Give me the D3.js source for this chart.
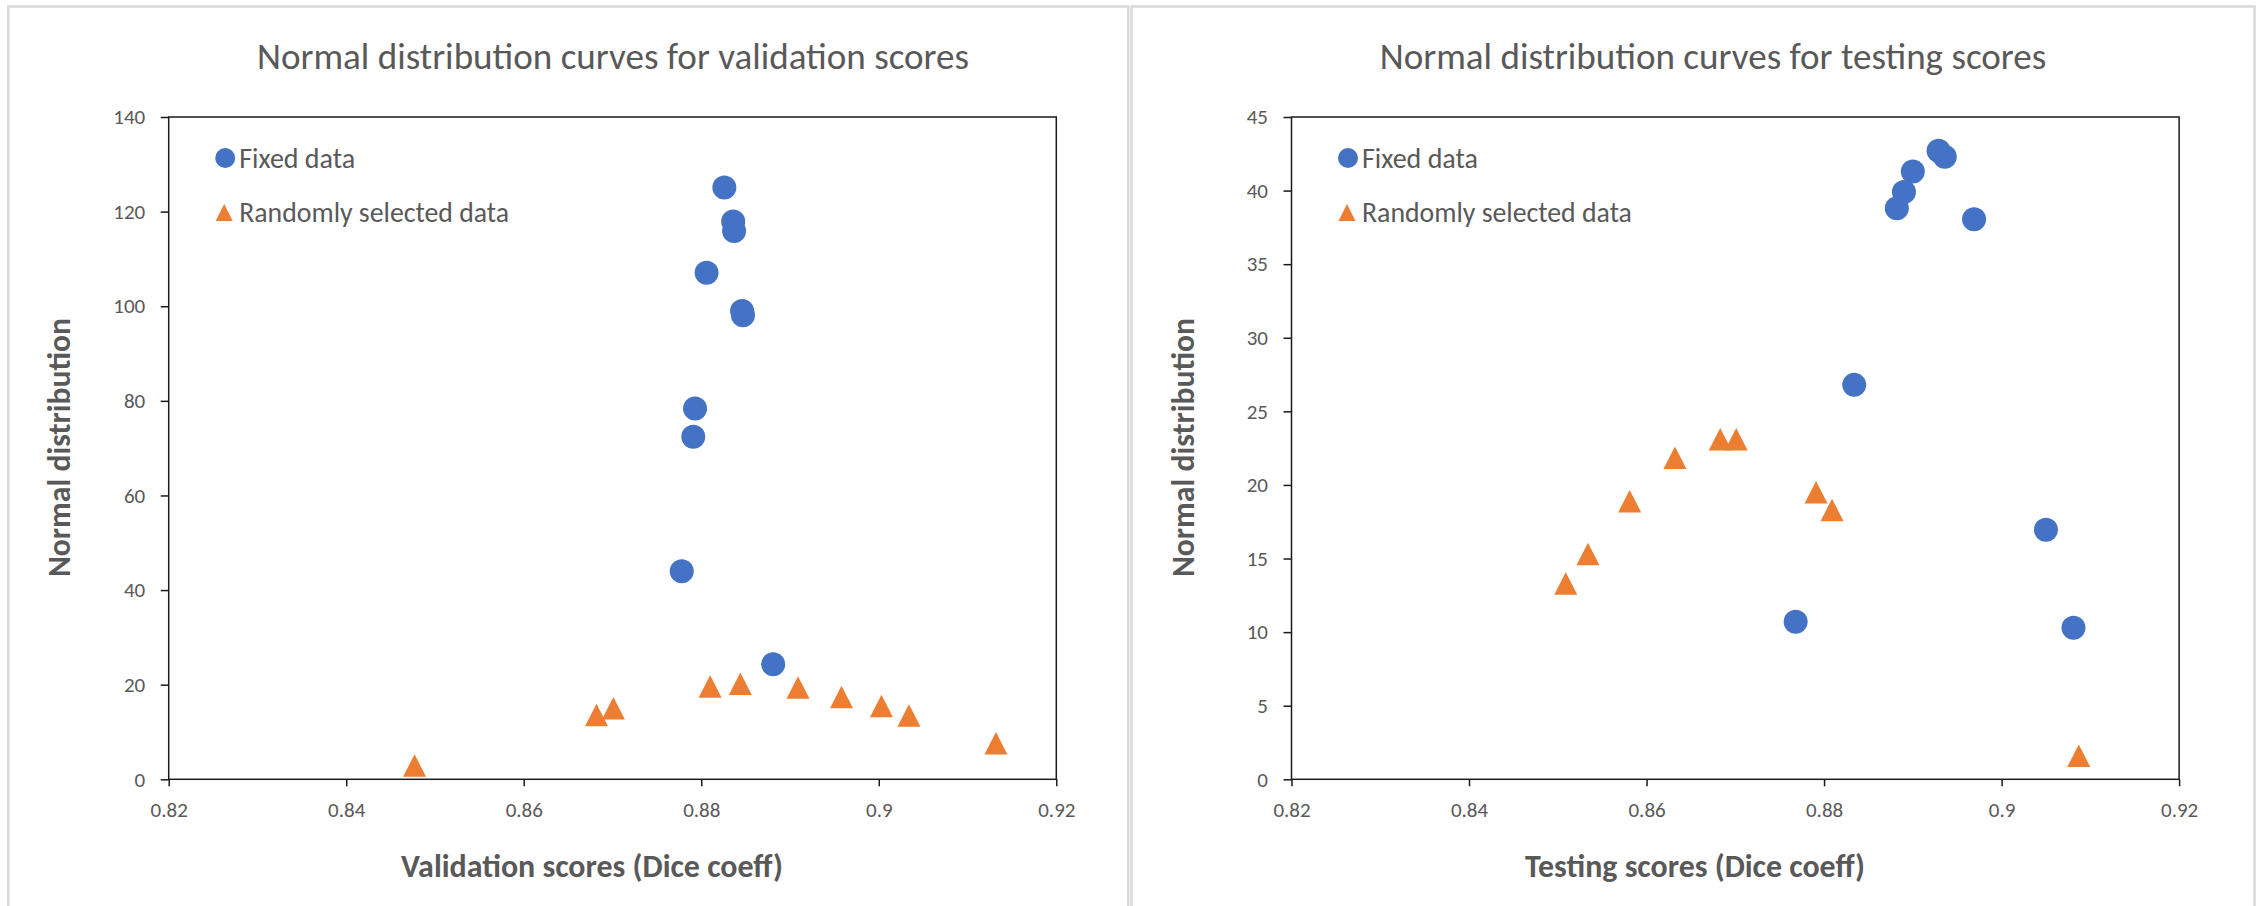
<!DOCTYPE html>
<html>
<head>
<meta charset="utf-8">
<script src="https://cdn.jsdelivr.net/npm/d3@7.9.0/dist/d3.min.js"></script>
<style>
  html, body { margin: 0; padding: 0; background: #fff; }
  svg { display: block; font-family: Carlito, "Open Sans", Lato, sans-serif; }
</style>
</head>
<body>
<svg id="chart" width="2257" height="906"></svg>
<script>
// validation scores panel
const valFixedX = [0.8826, 0.8836, 0.8837, 0.8806, 0.8846, 0.8847, 0.8793, 0.8791, 0.8778, 0.8881];
const valFixedY = [125.1, 117.9, 115.9, 107.1, 99.0, 98.1, 78.4, 72.4, 44.0, 24.3];
const valRandX = [0.8477, 0.8682, 0.8701, 0.8810, 0.8844, 0.8909, 0.8958, 0.9003, 0.9034, 0.9132];
const valRandY = [2.9, 13.6, 15.0, 19.6, 20.2, 19.4, 17.4, 15.5, 13.5, 7.6];

// testing scores panel
const testFixedX = [0.8929, 0.8936, 0.8900, 0.8890, 0.8882, 0.8969, 0.8834, 0.9050, 0.8768, 0.9081];
const testFixedY = [42.7, 42.3, 41.3, 39.9, 38.8, 38.05, 26.8, 16.95, 10.7, 10.3];
const testRandX = [0.8509, 0.8534, 0.8581, 0.8632, 0.8683, 0.8701, 0.8791, 0.8809, 0.9087];
const testRandY = [13.3, 15.3, 18.9, 21.85, 23.1, 23.1, 19.5, 18.3, 1.6];

const xTicks = [0.82, 0.84, 0.86, 0.88, 0.9, 0.92];
const valYTicks = [0, 20, 40, 60, 80, 100, 120, 140];
const testYTicks = [0, 5, 10, 15, 20, 25, 30, 35, 40, 45];

const seriesNames = ["Fixed data", "Randomly selected data"];

const blue = "#4472C4";
const orange = "#ED7D31";
const textGrey = "#595959";

const svg = d3.select("#chart");

// triangle with its bounding box centred on the point
function triangle(w, h) {
    return `M0,${-h / 2}L${w / 2},${h / 2}L${-w / 2},${h / 2}Z`;
}

// scale font size so the text takes the width it has in the original
function fitWidth(sel, width) {
    sel.each(function () {
        const base = parseFloat(this.style.fontSize);
        const len = this.getComputedTextLength();
        if (len > 0) this.style.fontSize = (base * width / len).toFixed(2) + "px";
    });
}

function drawPanel(opt) {
    // panel frame
    svg.append("rect")
        .attr("x", opt.frameX)
        .attr("y", 6.5)
        .attr("width", opt.frameW)
        .attr("height", 920)
        .attr("fill", "none")
        .attr("stroke", "#d9d9d9")
        .attr("stroke-width", 2.5);

    const x = d3.scaleLinear().domain([0.82, 0.92]).range([opt.left, opt.left + 887.6]);
    const y = d3.scaleLinear().domain([0, opt.yMax]).range([779.3, 117]);

    const g = svg.append("g");

    const xAxis = g.append("g")
        .attr("transform", `translate(0, ${y(0)})`)
        .call(d3.axisBottom(x).tickValues(xTicks).tickSize(7).tickSizeOuter(0).tickFormat(d3.format("")))
        .attr("font-family", null);
    xAxis.select(".domain").remove();
    xAxis.selectAll("line").attr("stroke", "#1a1a1a").attr("stroke-width", 1.5);
    xAxis.selectAll("text")
        .attr("y", 38)
        .attr("dy", 0)
        .attr("fill", textGrey)
        .style("font-size", "21px");

    const yAxis = g.append("g")
        .attr("transform", `translate(${x(0.82)}, 0)`)
        .call(d3.axisLeft(y).tickValues(opt.yTicks).tickSize(8).tickPadding(15.5).tickSizeOuter(0))
        .attr("font-family", null);
    yAxis.select(".domain").remove();
    yAxis.selectAll("line").attr("stroke", "#1a1a1a").attr("stroke-width", 1.5);
    yAxis.selectAll("text")
        .attr("fill", textGrey)
        .style("font-size", "21px");

    // plot box
    g.append("rect")
        .attr("x", x(0.82))
        .attr("y", y(opt.yMax))
        .attr("width", x(0.92) - x(0.82))
        .attr("height", y(0) - y(opt.yMax))
        .attr("fill", "none")
        .attr("stroke", "#1a1a1a")
        .attr("stroke-width", 1.5);

    // markers
    g.selectAll(".fixed")
        .data(opt.fixedX.map((d, i) => [d, opt.fixedY[i]]))
        .enter()
        .append("circle")
        .attr("cx", d => x(d[0]))
        .attr("cy", d => y(d[1]))
        .attr("r", 12)
        .attr("fill", blue);

    g.selectAll(".rand")
        .data(opt.randX.map((d, i) => [d, opt.randY[i]]))
        .enter()
        .append("path")
        .attr("d", triangle(23, 22.5))
        .attr("transform", d => `translate(${x(d[0])}, ${y(d[1])})`)
        .attr("fill", orange);

    // legend
    const lg = g.append("g").attr("transform", `translate(${opt.left + 56.5}, 0)`);
    lg.append("circle").attr("cx", 0).attr("cy", 158).attr("r", 10).attr("fill", blue);
    lg.append("path").attr("d", triangle(17, 17)).attr("transform", "translate(-1, 212.5)").attr("fill", orange);
    lg.selectAll("text")
        .data(seriesNames)
        .enter()
        .append("text")
        .attr("x", 14)
        .attr("y", (d, i) => 168 + i * 54)
        .attr("fill", textGrey)
        .style("font-size", "24px")
        .text(d => d)
        .call(s => s.each(function (d, i) { fitWidth(d3.select(this), [116, 270][i]); }));

    // titles
    svg.append("text")
        .attr("x", opt.titleX)
        .attr("y", 69)
        .attr("text-anchor", "middle")
        .attr("fill", textGrey)
        .style("font-size", "31px")
        .text(opt.title)
        .call(fitWidth, opt.titleW);

    svg.append("text")
        .attr("x", opt.xTitleX)
        .attr("y", 877)
        .attr("text-anchor", "middle")
        .attr("fill", textGrey)
        .style("font-size", "27px")
        .style("font-weight", "bold")
        .text(opt.xTitle)
        .call(fitWidth, opt.xTitleW);

    svg.append("text")
        .attr("transform", `translate(${opt.yTitleX}, 447.5) rotate(-90)`)
        .attr("text-anchor", "middle")
        .attr("dy", "0.35em")
        .attr("fill", textGrey)
        .style("font-size", "27px")
        .style("font-weight", "bold")
        .text("Normal distribution")
        .call(fitWidth, 259);
}

drawPanel({
    frameX: 8.3, frameW: 1120,
    left: 168.7, yMax: 140, yTicks: valYTicks,
    fixedX: valFixedX, fixedY: valFixedY, randX: valRandX, randY: valRandY,
    title: "Normal distribution curves for validation scores", titleX: 613, titleW: 712,
    xTitle: "Validation scores (Dice coeff)", xTitleX: 592, xTitleW: 382, yTitleX: 59
});

drawPanel({
    frameX: 1131.5, frameW: 1123,
    left: 1291.5, yMax: 45, yTicks: testYTicks,
    fixedX: testFixedX, fixedY: testFixedY, randX: testRandX, randY: testRandY,
    title: "Normal distribution curves for testing scores", titleX: 1713, titleW: 667,
    xTitle: "Testing scores (Dice coeff)", xTitleX: 1695, xTitleW: 340, yTitleX: 1183
});
</script>
</body>
</html>
